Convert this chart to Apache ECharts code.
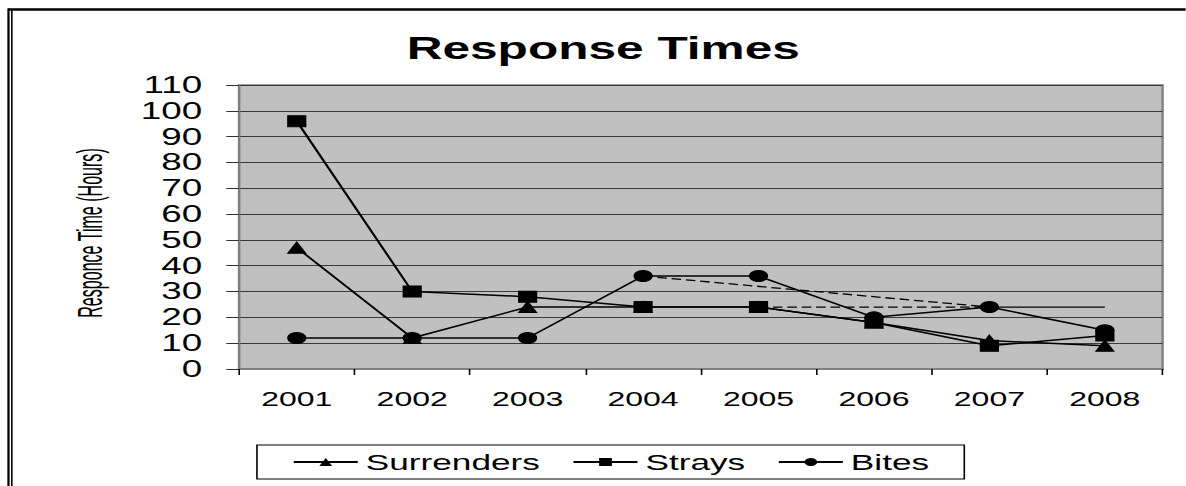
<!DOCTYPE html>
<html>
<head>
<meta charset="utf-8">
<title>Response Times</title>
<script src="https://cdn.jsdelivr.net/npm/echarts@6/dist/echarts.min.js"></script>
<style>
  html, body { margin: 0; padding: 0; background: #ffffff; overflow: hidden; }
  #wrap { width: 1186px; height: 486px; overflow: hidden; }
  /* the chart is laid out narrow and stretched sideways, like the original sheet export */
  #chart { width: 741.25px; height: 486px; transform: scaleX(1.6); transform-origin: 0 0; }
</style>
</head>
<body>
<div id="wrap"><div id="chart"></div></div>
<script>
// categories
const years = ['2001', '2002', '2003', '2004', '2005', '2006', '2007', '2008'];

// response times in hours
const surrenders = [47, 12, 24, 24, 24, 18, 11, 9];
const strays     = [96, 30, 28, 24, 24, 18, 9, 13];
const bites      = [12, 12, 12, 36, 36, 20, 24, 15];

// connector lines drawn in the sheet without markers
const bitesDrop   = [null, null, null, 36, null, null, 24, null];
const straysLevel = [null, null, null, null, 24, null, 24, null];
const levelTail   = [null, null, null, null, null, null, 24, 24];

// value axis ticks
const yMin = 0, yMax = 110, yStep = 10;

const FONT = '"Liberation Sans", Arial, sans-serif';

const chart = echarts.init(document.getElementById('chart'), null, { renderer: 'svg' });

function markerSeries(name, data, symbol) {
  return {
    name: name,
    type: 'line',
    data: data,
    symbol: symbol,
    symbolSize: 11,
    showSymbol: true,
    animation: false,
    lineStyle: { color: '#000', width: 1.5 },
    itemStyle: { color: '#000', borderColor: '#000' },
    z: 3
  };
}

function plainSeries(name, data, dashed) {
  return {
    name: name,
    type: 'line',
    data: data,
    symbol: 'none',
    connectNulls: true,
    silent: true,
    animation: false,
    lineStyle: { color: '#000', width: 1.3, type: dashed ? [6, 3] : 'solid' },
    z: 2
  };
}

chart.setOption({
  backgroundColor: '#ffffff',
  animation: false,
  title: {
    text: 'Response Times',
    left: 372,
    textAlign: 'center',
    top: 28,
    textStyle: { fontFamily: FONT, fontSize: 31, fontWeight: 'bold', color: '#000' }
  },
  grid: {
    left: 149.4,
    right: 14.4,
    top: 85,
    bottom: 117,
    show: true,
    backgroundColor: '#c0c0c0',
    borderColor: '#808080',
    borderWidth: 1.5
  },
  legend: {
    data: ['Surrenders', 'Strays', 'Bites'],
    left: 160.6,
    top: 445,
    orient: 'horizontal',
    itemWidth: 40,
    itemHeight: 10,
    itemGap: 20,
    padding: [6, 22, 6, 22],
    borderColor: '#000',
    borderWidth: 1,
    backgroundColor: '#ffffff',
    textStyle: { fontFamily: FONT, fontSize: 22, color: '#000' }
  },
  xAxis: {
    type: 'category',
    data: years,
    boundaryGap: true,
    axisLine: { show: true, lineStyle: { color: '#808080', width: 2 } },
    axisTick: { show: true, alignWithLabel: false, inside: false, length: 6, lineStyle: { color: '#000', width: 1 } },
    axisLabel: { margin: 20, fontFamily: FONT, fontSize: 20, color: '#000' },
    splitLine: { show: false }
  },
  yAxis: {
    type: 'value',
    min: yMin,
    max: yMax,
    interval: yStep,
    axisLine: { show: true, lineStyle: { color: '#808080', width: 1.3 } },
    axisTick: { show: true, inside: false, length: 8, lineStyle: { color: '#333', width: 1 } },
    axisLabel: { margin: 23, fontFamily: FONT, fontSize: 23, color: '#000' },
    splitLine: { show: true, lineStyle: { color: '#3a3a3a', width: 1 } }
  },
  graphic: [
    {
      type: 'text',
      x: 56,
      y: 233,
      rotation: Math.PI / 2,
      scaleX: 0.73,
      style: {
        text: 'Responce Time (Hours)',
        fontFamily: FONT,
        fontSize: 22,
        fill: '#000',
        align: 'center',
        verticalAlign: 'middle'
      }
    },
    // sheet frame: heavy top rule and double left rule
    { type: 'line', shape: { x1: 5, y1: 9.5, x2: 760, y2: 9.5 }, style: { stroke: '#000', lineWidth: 2.5 } },
    { type: 'line', shape: { x1: 5.3, y1: 8.5, x2: 5.3, y2: 500 }, style: { stroke: '#000', lineWidth: 1.4 } },
    { type: 'line', shape: { x1: 7.4, y1: 10.5, x2: 7.4, y2: 500 }, style: { stroke: '#000', lineWidth: 1 } }
  ],
  series: [
    markerSeries('Surrenders', surrenders, 'triangle'),
    markerSeries('Strays', strays, 'rect'),
    markerSeries('Bites', bites, 'circle'),
    plainSeries('bitesDrop', bitesDrop, true),
    plainSeries('straysLevel', straysLevel, true),
    plainSeries('levelTail', levelTail, false)
  ]
});
</script>
</body>
</html>
